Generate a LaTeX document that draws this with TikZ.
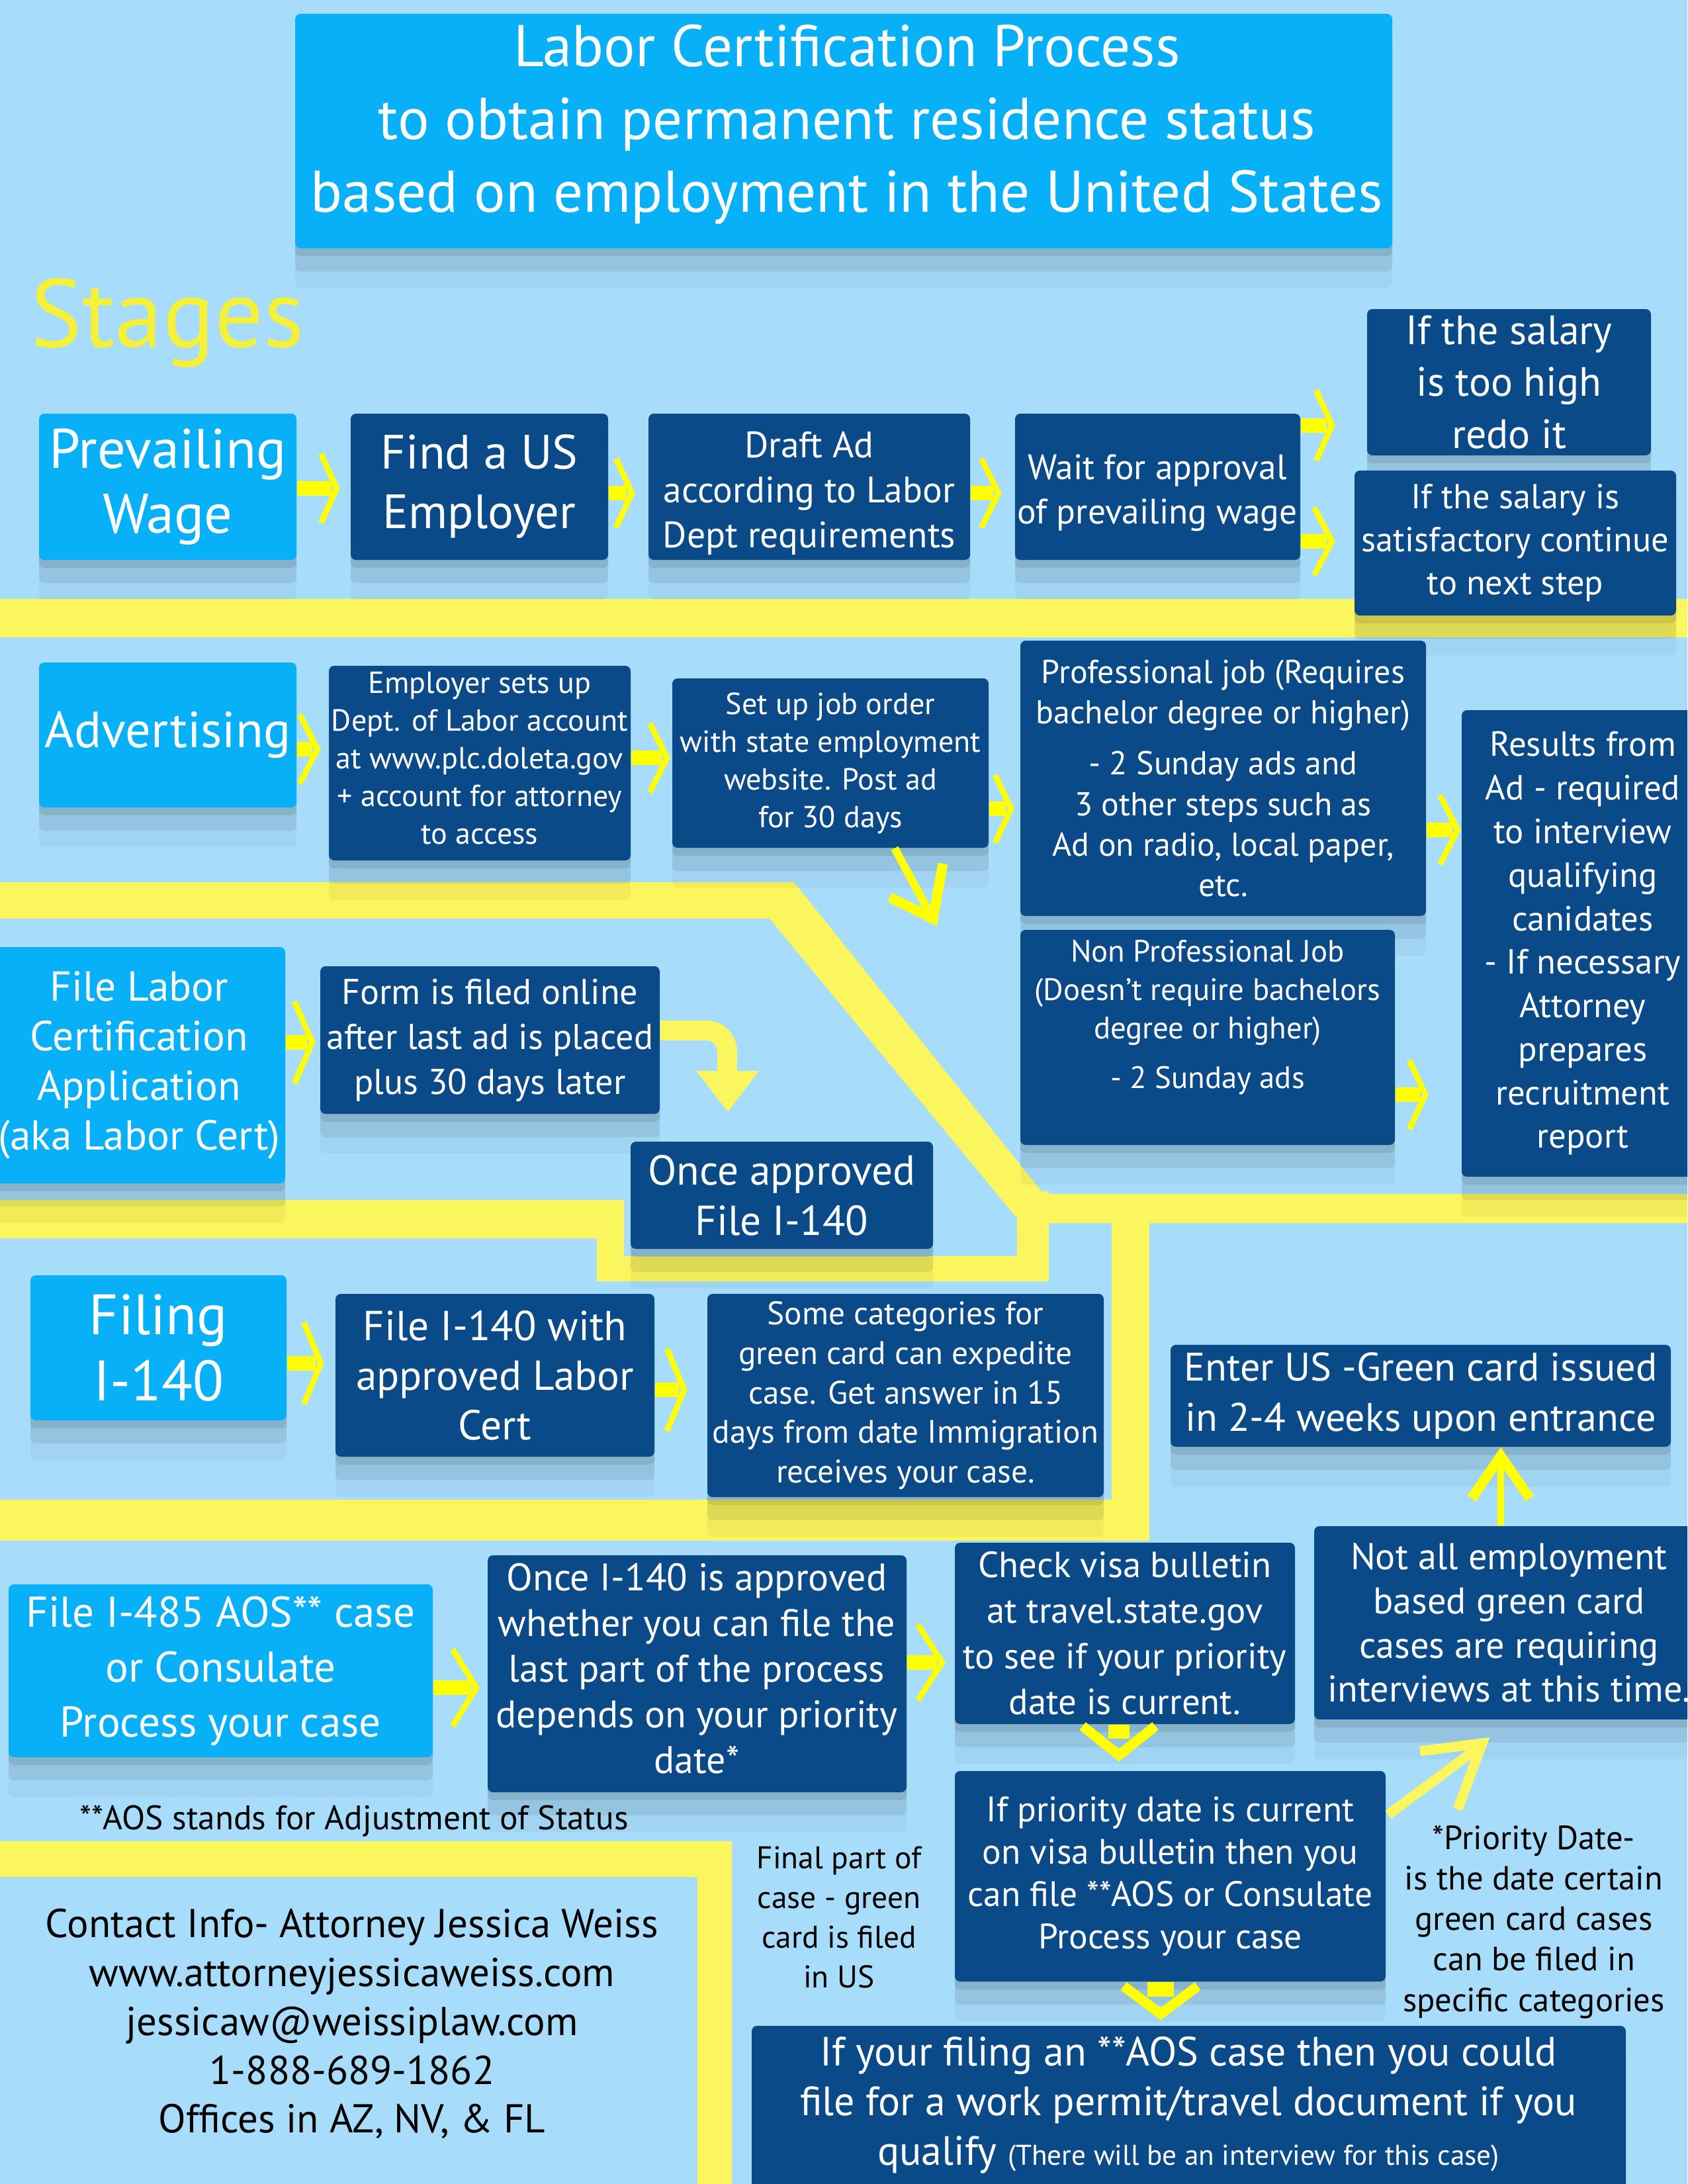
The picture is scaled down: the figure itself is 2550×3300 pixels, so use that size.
\documentclass[tikz,border=0pt]{standalone}
\usepackage{fontspec}
\setmainfont{PT Sans}
\usetikzlibrary{calc,shadows}
\definecolor{bg}{HTML}{A7DDFB}
\definecolor{cyanbox}{HTML}{07B0F7}
\definecolor{darkbox}{HTML}{0A4A88}
\definecolor{band}{HTML}{FBF55E}
\definecolor{arr}{HTML}{FFFF00}
\definecolor{stg}{HTML}{F5F03A}
\newcommand\fs[2]{\fontsize{#1}{#2}\selectfont}
\tikzset{
  box/.style={draw=none, inner sep=0pt, align=center, text=white, rounded corners=0.08cm,
    drop shadow={shadow xshift=0cm, shadow yshift=-0.12cm, opacity=0.09, fill=black},
    drop shadow={shadow xshift=0cm, shadow yshift=-0.35cm, opacity=0.07, fill=black},
    drop shadow={shadow xshift=0cm, shadow yshift=-0.6cm, opacity=0.04, fill=black}},
  cbox/.style={box, fill=cyanbox},
  dbox/.style={box, fill=darkbox},
  txtw/.style={inner sep=0pt, align=center, text=white},
  txtk/.style={inner sep=0pt, align=center, text=black},
  chev/.style={draw=arr, line width=0.085cm, line join=miter, line cap=butt},
  thickarr/.style={draw=arr, line width=0.15cm, line join=miter, line cap=butt},
}
\newcommand\bx[7]{\node[#2, minimum width={(#5-#3)*0.01cm}, minimum height={(#6-#4)*0.01cm}] (#1) at ({(#3+#5)/2},{(#4+#6)/2}) {#7};}
% horizontal chevron arrow: from node, tip name, tip x, tip y, half height, depth
\newcommand\harr[6]{%
  \coordinate (#2) at (#3,#4);
  \fill[arr] ($(#1.east |- #2)+(0,-11)$) rectangle ($(#2)+(-8,11)$);
  \draw[chev] ($(#2)+(-#6,-#5)$) -- (#2) -- ($(#2)+(-#6,#5)$);}
\begin{document}
\begin{tikzpicture}[x=0.01cm,y=-0.01cm]
\useasboundingbox (0,0) rectangle (2550,3300);
\clip (0,0) rectangle (2550,3300);
\fill[bg] (0,0) rectangle (2550,3300);

% ---------- yellow bands ----------
\fill[band] (0,905) rectangle (2550,963);
\fill[band] (0,1333) -- (1200,1333) -- (1577,1804) -- (2550,1804) -- (2550,1848)
  -- (1543,1848) -- (1163,1388) -- (0,1388) -- cycle;
\fill[band] (0,1813) -- (943,1813) -- (943,1898) -- (1537,1898) -- (1537,1800)
  -- (1585,1800) -- (1585,1936) -- (902,1936) -- (902,1871) -- (0,1871) -- cycle;
\fill[band] (1680,1848) rectangle (1737,2328);
\fill[band] (0,2266) rectangle (1737,2328);
\fill[band] (0,2782) -- (1106,2782) -- (1106,3300) -- (1054,3300) -- (1054,2836) -- (0,2836) -- cycle;

% ---------- title ----------
\bx{titlebox}{cbox}{446}{21}{2104}{375}{}
\node[txtw, font=\fs{25.3}{31.3}] (title) at (1280,188)
  {Labor Certification Process\\ to obtain permanent residence status\\ based on employment in the United States};
\node[inner sep=0pt, text=stg, font=\fs{41.5}{50}, anchor=base west] (stages) at (46,524) {Stages};

% ---------- row 1 ----------
\bx{pw}{cbox, font=\fs{24}{27.9}}{59}{625}{448}{846}{Prevailing\\ Wage}
\bx{find}{dbox, font=\fs{20.7}{25.6}}{530}{625}{919}{846}{Find a US\\ Employer}
\bx{draft}{dbox}{980}{625}{1466}{846}{}
\node[txtw, font=\fs{15.8}{19.3}] (draftt) at (1223,745) {Draft Ad\\ according to Labor\\ Dept requirements};
\bx{wait}{dbox}{1534}{625}{1965}{846}{}
\node[txtw, font=\fs{15.2}{19}] (waitt) at (1749,745) {Wait for approval\\ of prevailing wage};
\bx{high}{dbox, font=\fs{17.6}{22.2}}{2066}{467}{2495}{688}{If the salary\\ is too high\\ redo it}
\bx{satis}{dbox, font=\fs{14.9}{18.5}}{2047}{711}{2533}{930}{If the salary is\\ satisfactory continue\\ to next step}

% ---------- row 2 ----------
\bx{adv}{cbox, font=\fs{21.8}{26}}{59}{1001}{448}{1220}{Advertising}
\bx{emp}{dbox}{497}{1006}{953}{1300}{}
\node[txtw, font=\fs{13.1}{16.2}] (empt) at (725,1146) {Employer sets up\\ Dept. of Labor account\\ at www.plc.doleta.gov\\ + account for attorney\\ to access};
\bx{setup}{dbox, font=\fs{13.1}{16.2}}{1016}{1025}{1494}{1281}{Set up job order\\ with state employment\\ website. Post ad\\ for 30 days}
\bx{prof}{dbox, font=\fs{14.2}{17.4}}{1542}{968}{2155}{1384}{Professional job (Requires\\ bachelor degree or higher)\\[4.5pt] - 2 Sunday ads and\\ 3 other steps such as\\ Ad on radio, local paper,\\ etc.}
\bx{nonprof}{dbox}{1542}{1405}{2108}{1730}{}
\node[txtw, font=\fs{13.3}{16.5}] (nonproft) at (1825,1537) {Non Professional Job\\ (Doesn’t require bachelors\\ degree or higher)\\[5pt] - 2 Sunday ads};
\bx{results}{dbox, font=\fs{15}{18.7}}{2209}{1073}{2575}{1778}{Results from\\ Ad - required\\ to interview\\ qualifying\\ canidates\\ - If necessary\\ Attorney\\ prepares\\ recruitment\\ report}

% ---------- row 3 ----------
\bx{labor}{cbox, font=\fs{18}{21.3}}{-10}{1431}{431}{1788}{File Labor\\ Certification\\ Application\\ (aka Labor Cert)}
\bx{form}{dbox, font=\fs{15.4}{19.3}}{484}{1460}{997}{1683}{Form is filed online\\ after last ad is placed\\ plus 30 days later}
\bx{onceapp}{dbox, font=\fs{18}{21.6}}{953}{1725}{1410}{1887}{Once approved\\ File I-140}

% ---------- row 4 ----------
\bx{filing}{cbox, font=\fs{24.5}{28.7}}{46}{1927}{433}{2146}{Filing\\ I-140}
\bx{filei}{dbox, font=\fs{18}{21.3}}{507}{1955}{989}{2201}{File I-140 with\\ approved Labor\\ Cert}
\bx{some}{dbox, font=\fs{14}{17}}{1069}{1955}{1668}{2262}{Some categories for\\ green card can expedite\\ case. Get answer in 15\\ days from date Immigration\\ receives your case.}
\bx{enter}{dbox, font=\fs{17.1}{21.6}}{1769}{2032}{2525}{2186}{Enter US -Green card issued\\ in 2-4 weeks upon entrance}

% ---------- row 5 ----------
\bx{aos}{cbox, font=\fs{18.5}{23.6}}{13}{2394}{654}{2655}{File I-485 AOS** case\\ or Consulate\\ Process your case}
\bx{oncei}{dbox}{737}{2350}{1370}{2708}{}
\node[txtw, font=\fs{16.5}{19.6}] (onceit) at (1053,2521) {Once I-140 is approved\\ whether you can file the\\ last part of the process\\ depends on your priority\\ date*};
\bx{check}{dbox, font=\fs{15.6}{19.6}}{1443}{2331}{1957}{2605}{Check visa bulletin\\ at travel.state.gov\\ to see if your priority\\ date is current.}
\bx{notall}{dbox, font=\fs{16}{19}}{1986}{2306}{2575}{2598}{Not all employment\\ based green card\\ cases are requiring\\ interviews at this time.}
\bx{ifpri}{dbox, font=\fs{15.2}{18.2}}{1443}{2676}{2094}{2994}{If priority date is current\\ on visa bulletin then you\\ can file **AOS or Consulate\\ Process your case}
\bx{iffile}{dbox}{1136}{3061}{2457}{3320}{}
\node[txtw, font=\fs{17.6}{21.3}] (iffilet) at (1796,3181) {If your filing an **AOS case then you could\\ file for a work permit/travel document if you\\ qualify {\fs{12.3}{15}(There will be an interview for this case)}};

% ---------- free texts ----------
\node[txtk, font=\fs{14.6}{18}] (aosnote) at (535,2752) {**AOS stands for Adjustment of Status};
\node[txtk, font=\fs{13.5}{17}] (final) at (1268,2897) {Final part of\\ case - green\\ card is filed\\ in US};
\node[txtk, font=\fs{14.4}{17.4}] (pdate) at (2318,2904) {*Priority Date-\\ is the date certain\\ green card cases\\ can be filed in\\ specific categories};
\node[txtk, font=\fs{17.3}{21}] (contact) at (532,3058) {Contact Info- Attorney Jessica Weiss\\ www.attorneyjessicaweiss.com\\ jessicaw@weissiplaw.com\\ 1-888-689-1862\\ Offices in AZ, NV, \& FL};

% ---------- chevron arrows ----------
\harr{pw}{a1}{509}{738}{52}{24}
\harr{find}{a2}{955}{745}{52}{24}
\harr{draft}{a3}{1509}{745}{52}{26}
\harr{wait}{a4}{2013}{643}{53}{24}
\harr{wait}{a5}{2013}{818}{51}{27}
\harr{adv}{a6}{480}{1132}{52}{27}
\harr{emp}{a7}{1008}{1145}{52}{26}
\harr{setup}{a8}{1528}{1222}{51}{24}
\harr{prof}{a9}{2203}{1254}{52}{27}
\harr{labor}{a10}{472}{1575}{62}{27}
\harr{nonprof}{a11}{2154}{1654}{52}{24}
\harr{filing}{a12}{485}{2060}{62}{26}
\harr{filei}{a13}{1034}{2100}{62}{26}
\harr{aos}{a14}{720}{2550}{58}{36}
\harr{oncei}{a15}{1424}{2512}{57}{37}

% down chevrons
\coordinate (d1) at (1691,2652);
\fill[arr] ($(check.south -| d1)+(-16,0)$) rectangle ($(d1)+(16,-25)$);
\draw[thickarr] ($(d1)+(-55,-44)$) -- (d1) -- ($(d1)+(55,-44)$);
\coordinate (d2) at (1754,3043);
\fill[arr] ($(ifpri.south -| d2)+(-20,0)$) rectangle ($(d2)+(20,-26)$);
\draw[thickarr] ($(d2)+(-56,-42)$) -- (d2) -- ($(d2)+(56,-42)$);

% up arrow to Enter US
\coordinate (u1) at (2268,2200);
\draw[arr, line width=0.1cm] (notall.north -| u1) -- (u1);
\draw[thickarr] ($(u1)+(-44,64)$) -- (u1) -- ($(u1)+(44,64)$);

% diagonal arrow from If priority to Not all
\coordinate (g1) at (2240,2634);
\draw[band, line width=0.15cm] (2098,2742) -- ($(g1)+(-8,8)$);
\draw[band, line width=0.15cm, line join=miter] (2146,2646) -- (g1) -- (2203,2734);

% diagonal arrow from Set up job order
\coordinate (g2) at (1410,1388);
\draw[arr, line width=0.12cm] ($(setup.south)+(97,0)$) -- ($(g2)+(-5,-8)$);
\draw[thickarr] (1345,1356) -- (g2) -- (1425,1305);

% curved arrow from Form to Once approved
\coordinate (c1) at (1100,1680);
\draw[band, line width=0.3cm] (form.east |- 0,1557) -- (1068,1557) to[out=0,in=90] (1099,1590) -- (1099,1625);
\fill[band] (1052,1618) -- (1147,1618) -- (c1) -- cycle;
\end{tikzpicture}
\end{document}
